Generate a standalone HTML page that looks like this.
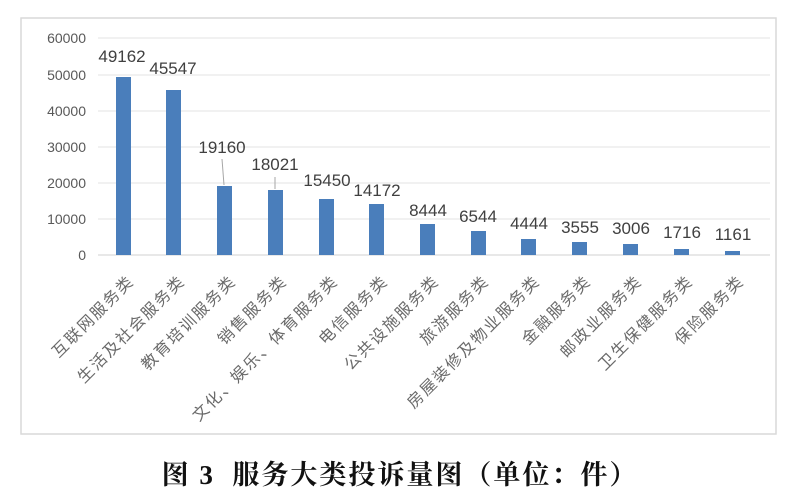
<!DOCTYPE html>
<html><head><meta charset="utf-8"><style>
html,body{margin:0;padding:0;background:#fff;width:800px;height:498px;overflow:hidden}
</style></head><body>
<svg width="800" height="498" xmlns="http://www.w3.org/2000/svg" font-family="Liberation Sans, Noto Sans CJK SC, sans-serif">
<rect x="21" y="18" width="755" height="416" fill="#fff" stroke="#d9d9d9" stroke-width="1.5"/>
<g stroke="#e3e3e3" stroke-width="1">
<line x1="98" x2="770" y1="38" y2="38"/><line x1="98" x2="770" y1="75" y2="75"/><line x1="98" x2="770" y1="111" y2="111"/><line x1="98" x2="770" y1="147" y2="147"/><line x1="98" x2="770" y1="183" y2="183"/><line x1="98" x2="770" y1="219" y2="219"/>
</g>
<line x1="98" x2="770" y1="255" y2="255" stroke="#d0d0d0"/>
<g fill="#595959" font-size="14" text-anchor="end">
<text x="86" y="43">60000</text><text x="86" y="80">50000</text><text x="86" y="116">40000</text><text x="86" y="152">30000</text><text x="86" y="188">20000</text><text x="86" y="224">10000</text><text x="86" y="260">0</text>
</g>
<g fill="#4a7ebb">
<rect x="116" y="77" width="15" height="178"/>
<rect x="166" y="90" width="15" height="165"/>
<rect x="217" y="186" width="15" height="69"/>
<rect x="268" y="190" width="15" height="65"/>
<rect x="319" y="199" width="15" height="56"/>
<rect x="369" y="204" width="15" height="51"/>
<rect x="420" y="224" width="15" height="31"/>
<rect x="471" y="231" width="15" height="24"/>
<rect x="521" y="239" width="15" height="16"/>
<rect x="572" y="242" width="15" height="13"/>
<rect x="623" y="244" width="15" height="11"/>
<rect x="674" y="249" width="15" height="6"/>
<rect x="725" y="251" width="15" height="4"/>
</g>
<g stroke="#a6a6a6" stroke-width="1"><line x1="222" y1="159" x2="224" y2="185"/><line x1="275" y1="177" x2="275" y2="189"/></g>
<g fill="#404040" font-size="17" text-anchor="middle">
<text x="122" y="62">49162</text><text x="173" y="74">45547</text><text x="222" y="153">19160</text><text x="275" y="170">18021</text><text x="327" y="186">15450</text><text x="377" y="196">14172</text><text x="428" y="216">8444</text><text x="478" y="222">6544</text><text x="529" y="229">4444</text><text x="580" y="233">3555</text><text x="631" y="234">3006</text><text x="682" y="238">1716</text><text x="733" y="240">1161</text>
</g>
<g fill="#6a6a6a" font-size="16" letter-spacing="2" text-anchor="end">
<text transform="translate(135,282) rotate(-45)">互联网服务类</text>
<text transform="translate(186,282) rotate(-45)">生活及社会服务类</text>
<text transform="translate(237,282) rotate(-45)">教育培训服务类</text>
<text transform="translate(288,282) rotate(-45)">销售服务类</text>
<text transform="translate(339,282) rotate(-45)">文化、娱乐、体育服务类</text>
<text transform="translate(389,282) rotate(-45)">电信服务类</text>
<text transform="translate(440,282) rotate(-45)">公共设施服务类</text>
<text transform="translate(490,282) rotate(-45)">旅游服务类</text>
<text transform="translate(541,282) rotate(-45)">房屋装修及物业服务类</text>
<text transform="translate(592,282) rotate(-45)">金融服务类</text>
<text transform="translate(643,282) rotate(-45)">邮政业服务类</text>
<text transform="translate(694,282) rotate(-45)">卫生保健服务类</text>
<text transform="translate(745,282) rotate(-45)">保险服务类</text>
</g>
<text x="400" y="484" text-anchor="middle" font-size="27" font-weight="bold" letter-spacing="2" fill="#111" font-family="Liberation Serif, Noto Serif CJK SC, serif" xml:space="preserve">图 3  服务大类投诉量图（单位：件）</text>
</svg>
</body></html>
